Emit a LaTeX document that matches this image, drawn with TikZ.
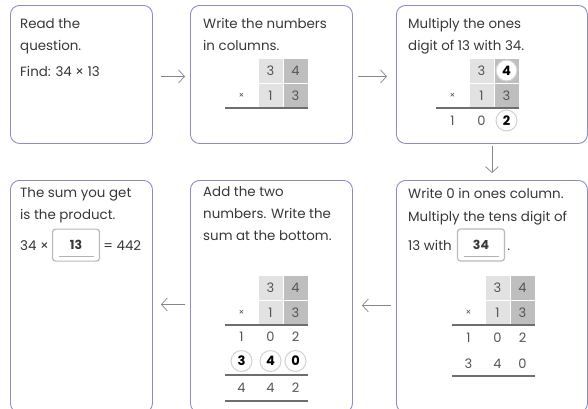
\documentclass[tikz,border=0pt]{standalone}
\usepackage{fontspec}
\setmainfont{Poppins}
\usetikzlibrary{positioning,arrows.meta}

\definecolor{cardline}{RGB}{140,140,200}
\definecolor{arrowgray}{RGB}{135,135,135}
\definecolor{tenscell}{RGB}{226,226,226}
\definecolor{onescell}{RGB}{190,190,190}
\definecolor{digitgray}{RGB}{85,85,85}
\definecolor{rulegray}{RGB}{110,110,110}
\definecolor{inkgray}{RGB}{55,55,55}

\tikzset{
	card/.style={draw=cardline, line width=0.9pt, rounded corners=9pt, anchor=north west, inner sep=0pt},
	flow/.style={draw=arrowgray, line width=0.7pt, -{Straight Barb[length=6pt,width=13pt]}},
	says/.style={anchor=base west, inner sep=0pt, align=left, text=inkgray, font=\fontsize{13.4}{22}\selectfont},
	cell/.style={minimum width=25pt, minimum height=25pt, inner sep=0pt, draw=white, line width=0.8pt, text=digitgray, font=\fontsize{13}{13}\selectfont},
	digit/.style={inner sep=0pt, text=digitgray, font=\fontsize{13}{13}\selectfont},
	sign/.style={inner sep=0pt, text=digitgray, font=\fontsize{9}{9}\selectfont},
	ringed/.style={circle, fill=white, draw=gray!35, line width=1pt, minimum size=21pt, inner sep=0pt, text=black, font=\fontsize{13}{13}\selectfont\bfseries},
	rule/.style={draw=rulegray, line width=1.2pt},
	ansbox/.style={draw=gray!55, line width=1.2pt, rounded corners=3pt, fill=white, minimum width=47pt, minimum height=32pt, inner sep=0pt, text=inkgray, font=\fontsize{12.5}{12.5}\selectfont\bfseries,
		path picture={\draw[gray!60, line width=0.8pt] ([shift={(6pt,5pt)}]path picture bounding box.south west) -- ([shift={(-6pt,5pt)}]path picture bounding box.south east);}}
}

% the 34 over 13 grid, local origin at the top left of the sign column
\newcommand{\factorgrid}{
	\node[cell, fill=tenscell] (t1) at (45.5,12.5) {3};
	\node[cell, fill=onescell] (o1) at (70.5,12.5) {4};
	\node[cell, fill=tenscell] (t2) at (45.5,37.5) {1};
	\node[cell, fill=onescell] (o2) at (70.5,37.5) {3};
	\node[sign] (x) at (16.5,37.5) {×};
	\draw[rule] (0,50) -- (83,50);
}

\begin{document}
\begin{tikzpicture}[x=1pt,y=-1pt]
	\useasboundingbox (0,0) rectangle (588,408);

	% cards
	\node[card, minimum width=142pt, minimum height=138pt] (read) at (10,5) {};
	\node[card, minimum width=162pt, minimum height=138pt] (write) at (190,5) {};
	\node[card, minimum width=191pt, minimum height=138pt] (ones) at (396,5) {};
	\node[card, minimum width=142pt, minimum height=232pt] (sum) at (10,180) {};
	\node[card, minimum width=162pt, minimum height=232pt] (add) at (190,180) {};
	\node[card, minimum width=191pt, minimum height=232pt] (tens) at (396,180) {};

	% arrows
	\draw[flow, shorten <=8pt, shorten >=5pt] ([yshift=-2pt]read.east) -- ([yshift=-2pt]write.west);
	\draw[flow, shorten <=5pt, shorten >=9pt] ([yshift=-2pt]write.east) -- ([yshift=-2pt]ones.west);
	\draw[flow, shorten <=2pt, shorten >=7pt] (ones.south) -- (tens.north);
	\draw[flow, shorten <=5pt, shorten >=9pt] ([yshift=-9pt]tens.west) -- ([yshift=-9pt]add.east);
	\draw[flow, shorten <=5pt, shorten >=8pt] ([yshift=-8pt]add.west) -- ([yshift=-8pt]sum.east);

	% step 1 (base is the last line)
	\node[says] (readtxt) at (20,50) {Read the\\question.};
	\node[says] (find) at (20,76) {Find: 34 × 13};

	% step 2
	\node[says] (writetxt) at (203,50) {Write the numbers\\in columns.};
	\begin{scope}[shift={(225,58)}, name prefix=wr-]
		\factorgrid
	\end{scope}

	% step 3
	\node[says] (onestxt) at (408,50) {Multiply the ones\\digit of 13 with 34.};
	\begin{scope}[shift={(436,58)}, name prefix=on-]
		\factorgrid
		\node[ringed] (c1) at (70.5,12.5) {4};
		\node[digit] (p1) at (16.5,62.5) {1};
		\node[digit] (p2) at (45.5,62.5) {0};
		\node[ringed] (p3) at (70.5,62.5) {2};
	\end{scope}

	% step 4
	\node[says] (tenstxt) at (408,221) {Write 0 in ones column.\\[1pt]Multiply the tens digit of};
	\node[says] (with) at (408,250) {13 with};
	\node[ansbox, right=5pt of with] (ans2) {34};
	\node[says] (stop) at ([xshift=2pt]ans2.east |- with.base) {.};
	\begin{scope}[shift={(452,275)}, name prefix=te-]
		\factorgrid
		\node[digit] (p1) at (16.5,63) {1};
		\node[digit] (p2) at (45.5,63) {0};
		\node[digit] (p3) at (70.5,63) {2};
		\node[digit] (q1) at (16.5,89) {3};
		\node[digit] (q2) at (45.5,89) {4};
		\node[digit] (q3) at (70.5,89) {0};
		\draw[rule] (0,101) -- (83,101);
	\end{scope}

	% step 5
	\node[says] (addtxt) at (203,240) {Add the two\\numbers. Write the\\sum at the bottom.};
	\begin{scope}[shift={(225,275)}, name prefix=ad-]
		\factorgrid
		\node[digit] (p1) at (16.5,62) {1};
		\node[digit] (p2) at (45.5,62) {0};
		\node[digit] (p3) at (70.5,62) {2};
		\node[ringed] (q1) at (16.5,86) {3};
		\node[ringed] (q2) at (45.5,86) {4};
		\node[ringed] (q3) at (70.5,86) {0};
		\draw[rule] (0,100) -- (83,100);
		\node[digit] (s1) at (16.5,113) {4};
		\node[digit] (s2) at (45.5,113) {4};
		\node[digit] (s3) at (70.5,113) {2};
		\draw[rule] (0,126) -- (83,126);
	\end{scope}

	% step 6
	\node[says] (sumtxt) at (20,219) {The sum you get\\is the product.};
	\node[says] (prod) at (20,250) {34 ×};
	\node[ansbox, right=3pt of prod] (ans1) {13};
	\node[says] (total) at ([xshift=3pt]ans1.east |- prod.base) {= 442};
\end{tikzpicture}
\end{document}
